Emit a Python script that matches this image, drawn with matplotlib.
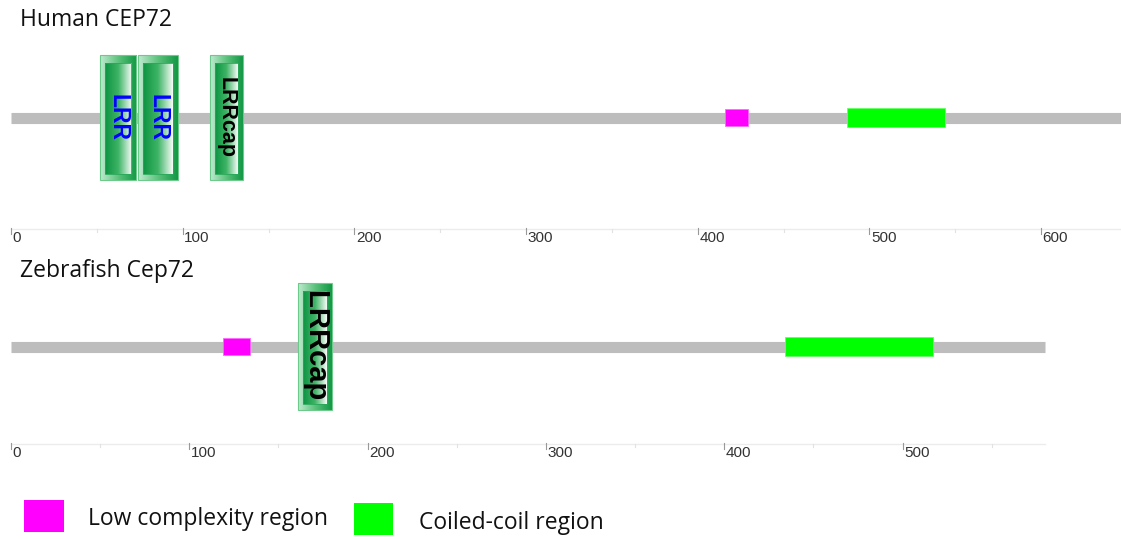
"""
Domain maps of human CEP72 and zebrafish Cep72
"""

import numpy as np
import matplotlib.pyplot as plt
from matplotlib.colors import LinearSegmentedColormap
from matplotlib.patches import Rectangle

# protein lengths (aa)
human_length = 647
zf_length = 580

# SMART-style domains: start, end, label
human_domains = [(52, 73, 'LRR'), (74, 97, 'LRR'), (116, 135, 'LRRcap')]
human_low_complexity = [(416, 429)]
human_coiled_coil = [(487, 544)]

zf_domains = [(161, 180, 'LRRcap')]
zf_low_complexity = [(119, 134)]
zf_coiled_coil = [(434, 517)]

human_ticks = [0, 100, 200, 300, 400, 500, 600]
zf_ticks = [0, 100, 200, 300, 400, 500]

W, H = 1121, 539
GREY = '#bdbdbd'
PINK = '#ff00ff'
GREEN = '#00ff00'
LABEL_FONT = ['Open Sans', 'DejaVu Sans']

outer_cmap = LinearSegmentedColormap.from_list('outer', ['#bfead0', '#5cc27c', '#129845'])
inner_cmap = LinearSegmentedColormap.from_list('inner', ['#0c9442', '#3fb466', '#f4fbf6'])
grad = np.linspace(0, 1, 64).reshape(1, -1)


def px(ax):
    """pixels per aa for this axes"""
    x0, x1 = ax.get_xlim()
    return ax.get_position().width * W / (x1 - x0)


def domain_box(ax, start, end, label, top, bottom, color, size):
    k = px(ax)
    ax.imshow(grad, cmap=outer_cmap, extent=(start, end, bottom, top),
              aspect='auto', zorder=3, interpolation='bilinear')
    ax.add_patch(Rectangle((start, top), end - start, bottom - top, fill=False,
                           ec='#6ccb8a', lw=0.8, zorder=4))
    ax.imshow(grad, cmap=inner_cmap,
              extent=(start + 5 / k, end - 5 / k, bottom - 6, top + 8),
              aspect='auto', zorder=4, interpolation='bilinear')
    ax.add_patch(Rectangle((start + 5 / k, top + 8), end - start - 10 / k,
                           bottom - top - 14, fill=False, ec='#2aa85a', lw=0.6, zorder=5))
    ax.text((start + end) / 2, (top + bottom) / 2, label, rotation=-90,
            ha='center', va='center', color=color, fontsize=size,
            fontweight='bold', family='Liberation Sans', zorder=6)


def draw_protein(ax, length, domains, lcr, cc, ticks, track_y, top, bottom,
                 axis_y, cap_size):
    ax.plot([0, length], [track_y, track_y], color=GREY, lw=8,
            solid_capstyle='butt', zorder=1)
    for s, e in lcr:
        ax.add_patch(Rectangle((s, track_y - 8.5), e - s, 17, fc=PINK,
                               ec='#ff66ff', lw=0.6, zorder=2))
    for s, e in cc:
        ax.add_patch(Rectangle((s, track_y - 9.5), e - s, 19, fc=GREEN,
                               ec='#66ff66', lw=0.6, zorder=2))
    for s, e, name in domains:
        if name == 'LRR':
            domain_box(ax, s, e, name, top, bottom, '#0000ff', 16.5)
        else:
            domain_box(ax, s, e, name, top, bottom, 'black', cap_size)

    # ruler under the track
    ax.plot([0, length], [axis_y, axis_y], color='#ececec', lw=1, zorder=1)
    for t in range(50, length, 100):
        ax.plot([t, t], [axis_y, axis_y + 3], color='#e2e2e2', lw=0.8)
    k = px(ax)
    for t in ticks:
        ax.plot([t, t], [axis_y - 1, axis_y + 5], color='#999999', lw=0.8)
        ax.text(t + 1.5 / k, axis_y + 9, str(t), ha='left', va='center',
                fontsize=11, color='#333333', family='Liberation Sans')


fig = plt.figure(figsize=(W / 100, H / 100), dpi=100)

ax1 = fig.add_axes([0, 1 - 260 / H, 1, 260 / H])
ax1.set_xlim(-11 / 1.717, (W - 11) / 1.717)
ax1.set_ylim(260, 0)
ax1.axis('off')
draw_protein(ax1, human_length, human_domains, human_low_complexity,
             human_coiled_coil, human_ticks, 117.5, 55, 180, 229, 15.5)
ax1.set_xlim(-11 / 1.717, (W - 11) / 1.717)
ax1.set_ylim(260, 0)
ax1.text(20 / 1.717 - 11 / 1.717, 20, 'Human CEP72', ha='left', va='center',
         fontsize=16.5, family=LABEL_FONT, color='#111111')

ax2 = fig.add_axes([0, 1 - 480 / H, 1, 220 / H])
ax2.set_xlim(-11 / 1.783, (W - 11) / 1.783)
ax2.set_ylim(480, 260)
ax2.axis('off')
draw_protein(ax2, zf_length, zf_domains, zf_low_complexity, zf_coiled_coil,
             zf_ticks, 346.5, 283, 410, 444, 21)
ax2.set_xlim(-11 / 1.783, (W - 11) / 1.783)
ax2.set_ylim(480, 260)
ax2.text(20 / 1.783 - 11 / 1.783, 271, 'Zebrafish Cep72', ha='left', va='center',
         fontsize=16.5, family=LABEL_FONT, color='#111111')

# legend
leg = fig.add_axes([0, 0, 1, 1])
leg.set_xlim(0, W)
leg.set_ylim(H, 0)
leg.axis('off')
leg.add_patch(Rectangle((24, 500), 40, 32, fc=PINK, ec='none'))
leg.text(88, 519, 'Low complexity region', ha='left', va='center',
         fontsize=16.5, family=LABEL_FONT, color='#111111')
leg.add_patch(Rectangle((354, 503), 39, 32, fc=GREEN, ec='none'))
leg.text(419, 523, 'Coiled-coil region', ha='left', va='center',
         fontsize=16.5, family=LABEL_FONT, color='#111111')

fig.savefig('out.png', dpi=100)
